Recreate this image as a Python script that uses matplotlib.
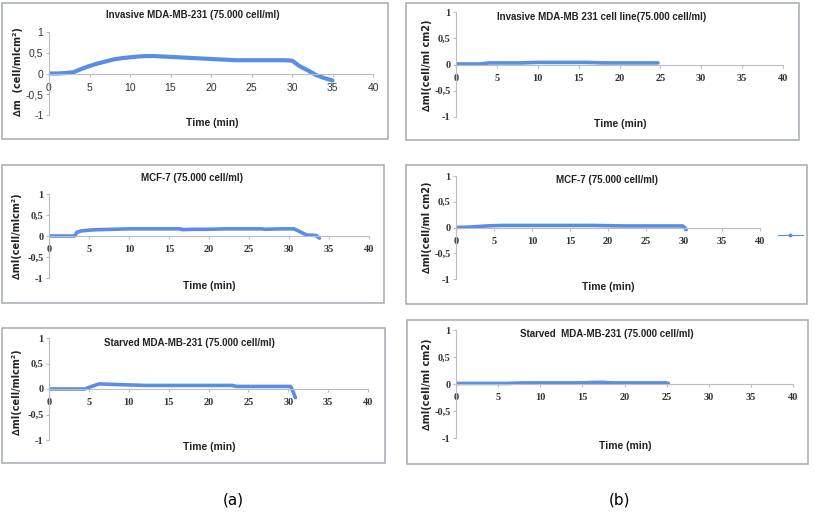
import matplotlib
matplotlib.use('Agg')
import matplotlib.pyplot as plt
from matplotlib.patches import Rectangle
from matplotlib.lines import Line2D

W, H = 817, 525
blue = '#5A8DE6'
grey = '#A3ABB3'

# --- data (time in min, delta m) ---
t1 = [0, 1, 2, 3, 4, 5, 6, 7, 8, 9, 10, 11, 12, 13, 14, 15, 17, 19, 21, 23, 25, 27, 29, 30, 31, 32, 33, 34, 35]
m1 = [0, 0, 0.01, 0.03, 0.11, 0.18, 0.24, 0.29, 0.34, 0.37, 0.39, 0.41, 0.42, 0.42, 0.41, 0.40, 0.38, 0.36, 0.34, 0.32, 0.32, 0.32, 0.32, 0.31, 0.17, 0.07, -0.04, -0.11, -0.17]

t2 = [0, 2, 3, 4, 6, 8, 10, 12, 14, 16, 18, 20, 22, 24.7]
m2 = [0.01, 0.01, 0.01, 0.03, 0.03, 0.03, 0.04, 0.04, 0.04, 0.04, 0.03, 0.03, 0.03, 0.03]

t3 = [0, 1, 2, 3.2, 3.5, 4, 5, 6, 8, 10, 12, 14, 16.5, 16.6, 18, 20, 22, 24, 26.5, 27, 29, 30.6, 31.2, 31.8, 32.3, 33, 33.4, 33.8]
m3 = [0, 0, 0, 0, 0.09, 0.12, 0.14, 0.15, 0.16, 0.17, 0.17, 0.17, 0.17, 0.15, 0.16, 0.16, 0.17, 0.17, 0.17, 0.16, 0.17, 0.17, 0.12, 0.06, 0.02, 0.02, 0.01, -0.05]

t4 = [0, 2, 4, 6, 10, 14, 18, 22, 26, 29.8, 30.1, 30.3]
m4 = [0, 0.01, 0.03, 0.04, 0.04, 0.04, 0.04, 0.03, 0.03, 0.03, 0.0, -0.04]

t5 = [0, 2, 4.5, 5, 5.7, 6.3, 8, 10, 12, 15, 18, 20, 23, 23.5, 26, 28, 30.3, 30.6, 30.9]
m5 = [0, 0, 0, 0.03, 0.07, 0.10, 0.09, 0.08, 0.07, 0.07, 0.07, 0.07, 0.07, 0.05, 0.05, 0.05, 0.05, -0.05, -0.17]

t6 = [0, 3, 6, 8, 12, 15, 16.5, 17.5, 18.5, 22, 25, 25.2]
m6 = [0.01, 0.01, 0.01, 0.02, 0.02, 0.02, 0.03, 0.03, 0.02, 0.02, 0.02, 0.01]

titles = ['Invasive MDA-MB-231 (75.000 cell/ml)',
          'Invasive MDA-MB 231 cell line(75.000 cell/ml)',
          'MCF-7 (75.000 cell/ml)',
          'MCF-7 (75.000 cell/ml)',
          'Starved MDA-MB-231 (75.000 cell/ml)',
          'Starved  MDA-MB-231 (75.000 cell/ml)']
ylabels = ['\u2206m  (cell/mlcm\u00b2)', '\u2206ml(cell/ml cm2)',
           '\u2206ml(cell/mlcm\u00b2)', '\u2206ml(cell/ml cm2)',
           '\u2206ml(cell/mlcm\u00b2)', '\u2206ml(cell/ml cm2)']
xticks = [0, 5, 10, 15, 20, 25, 30, 35, 40]
yticks = [-1, -0.5, 0, 0.5, 1]
ytick_labels = ['-1', '-0,5', '0', '0,5', '1']

series = [(t1, m1), (t2, m2), (t3, m3), (t4, m4), (t5, m5), (t6, m6)]

# pixel layout: axes (x0, x1, ytop, ybottom), box (left, right, top, bottom), title, xlabel, ylabel centres
axes_px = [(49, 373, 32, 115), (456, 783, 12, 117), (49, 369, 194, 278),
           (456, 760, 176, 279), (49, 368, 338, 440), (456, 793, 330, 438)]
box_px = [(2, 388, 3, 139), (406, 799, 3, 140), (2, 384, 165, 303),
          (406, 807, 165, 304), (2, 385, 328, 463), (407, 808, 320, 464)]
title_px = [(193, 15), (602, 17), (192, 178), (607, 180), (189, 343), (607, 334)]
xlab_px = [(212, 123), (620, 124), (209, 286), (608, 287), (209, 447), (625, 446)]
ylab_px = [(18, 72), (427, 65), (17, 236), (427, 227), (17, 392), (427, 384)]


def fx(x):
    return x / W


def fy(y):
    return 1 - y / H


fig = plt.figure(figsize=(W / 100, H / 100), dpi=100)

for i in range(6):
    l, r, t, b = box_px[i]
    fig.add_artist(Rectangle((fx(l), fy(b)), fx(r - l), (b - t) / H,
                             transform=fig.transFigure, fill=False,
                             edgecolor=grey, linewidth=1.1))

axs = []
for i in range(6):
    x0, x1, yt, yb = axes_px[i]
    ax = fig.add_axes([fx(x0), fy(yb), fx(x1 - x0), (yb - yt) / H])
    ax.patch.set_alpha(0)
    t, m = series[i]
    lw = 3 if i == 0 else 2.6
    ax.plot(t, m, color=blue, lw=lw, solid_capstyle='round')
    ax.set_xlim(0, 40)
    ax.set_ylim(-1, 1)
    for s in ['top', 'right']:
        ax.spines[s].set_visible(False)
    ax.spines['bottom'].set_position(('data', 0))
    ax.spines['bottom'].set_color('#B8BEC4')
    ax.spines['left'].set_color('#B8BEC4')
    ax.set_xticks(xticks)
    ax.set_yticks(yticks)
    ax.set_yticklabels(ytick_labels)
    if i == 0:
        fp = dict(family='Liberation Sans', size=7.5)
    else:
        fp = dict(family='Liberation Serif', size=7.5, weight='bold')
    for lab in ax.get_xticklabels() + ax.get_yticklabels():
        lab.set_fontfamily(fp['family'])
        lab.set_fontsize(fp['size'])
        lab.set_fontweight(fp.get('weight', 'normal'))
        lab.set_color('#333333')
    ax.tick_params(axis='x', length=2, width=0.8, color='#B8BEC4', pad=4.5)
    ax.tick_params(axis='y', length=2.5, width=0.8, color='#B8BEC4', pad=1.5)
    axs.append(ax)

    fig.text(fx(title_px[i][0]), fy(title_px[i][1]), titles[i], ha='center', va='center',
             fontsize=7, fontweight='bold', family='Liberation Sans', color='#222222')
    fig.text(fx(xlab_px[i][0]), fy(xlab_px[i][1]), 'Time (min)', ha='center', va='center',
             fontsize=7.5, fontweight='bold', family='Liberation Sans', color='#222222')
    fig.text(fx(ylab_px[i][0]), fy(ylab_px[i][1]), ylabels[i], ha='center', va='center',
             rotation=90, fontsize=7, fontweight='bold', family='DejaVu Sans', color='#222222')

# stray legend entry in the middle-right panel
h = Line2D([], [], color=blue, lw=0.8, marker='o', markersize=1.8)
axs[3].legend(handles=[h], labels=[''], frameon=False, loc='center',
              bbox_to_anchor=(fx(790), fy(236)), bbox_transform=fig.transFigure,
              handlelength=1.8, handletextpad=0, borderpad=0)

fig.text(fx(233), fy(500), '(a)', ha='center', va='center', fontsize=11, family='DejaVu Sans')
fig.text(fx(620), fy(500), '(b)', ha='center', va='center', fontsize=11, family='DejaVu Sans')

plt.savefig('out.png', dpi=100)
